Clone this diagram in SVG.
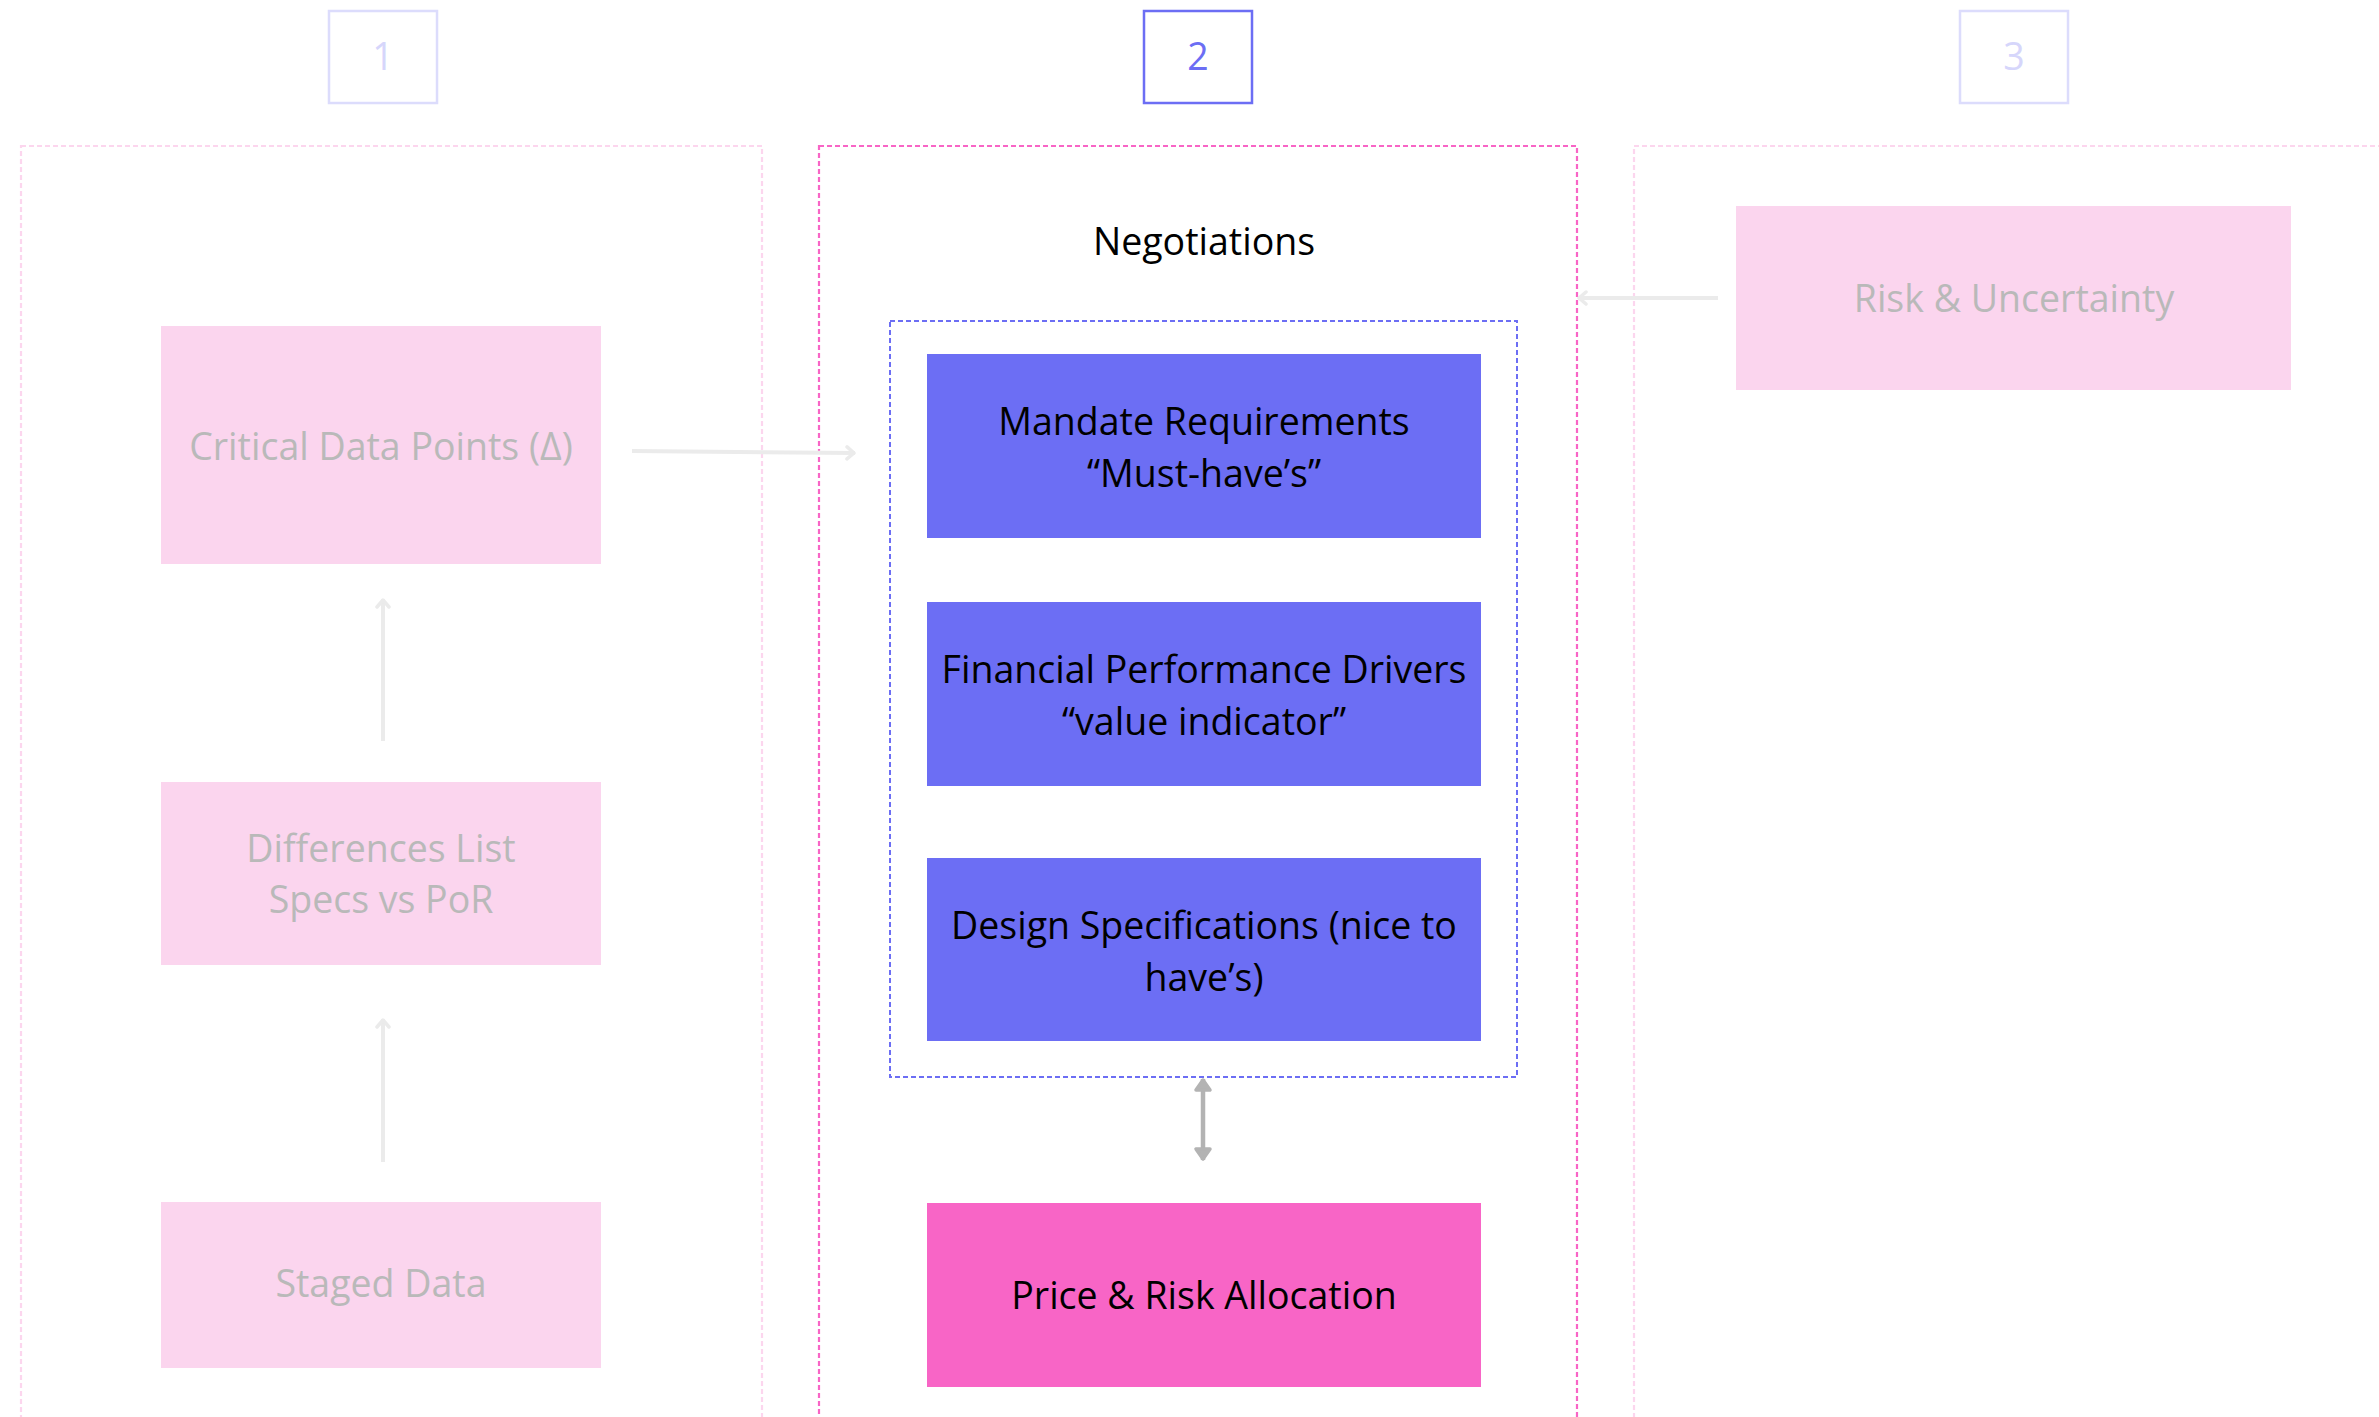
<svg xmlns="http://www.w3.org/2000/svg" width="2379" height="1417" viewBox="0 0 2379 1417">
  <style>
    text { font-family: "Open Sans", "Noto Sans", "Liberation Sans", sans-serif; font-size: 37.5px; text-anchor: middle; }
    .num-faded rect { fill: #ffffff; stroke: #dcdcfc; stroke-width: 2.5; }
    .num-faded text { fill: #d6d6fb; }
    .num-active rect { fill: #ffffff; stroke: #6c6ef4; stroke-width: 2.5; }
    .num-active text { fill: #6c6ef4; }
    .lane-faded { fill: none; stroke: #fcd6ee; stroke-width: 2.2; stroke-dasharray: 5 3; }
    .lane-active { fill: none; stroke: #f865c6; stroke-width: 2.2; stroke-dasharray: 5 3; }
    .group-blue { fill: none; stroke: #6c6ef4; stroke-width: 2; stroke-dasharray: 5 3; }
    .faded rect { fill: #fbd5ee; }
    .faded text { fill: #b9b9b9; }
    .blue rect { fill: #6c6ef4; }
    .blue text, .pink text, .title { fill: #000000; }
    .pink rect { fill: #f865c6; }
    .conn-faded { fill: none; stroke: #ebebeb; stroke-width: 4; }
    .conn-dark { fill: none; stroke: #b3b3b3; stroke-width: 4.5; }
  </style>
  <defs>
    <marker id="arrFaded" viewBox="0 0 12 16" refX="11" refY="8" markerWidth="12" markerHeight="16" markerUnits="userSpaceOnUse" orient="auto-start-reverse">
      <polyline points="3,2 10,8 3,14" fill="none" stroke="#ebebeb" stroke-width="3.5" stroke-linecap="round" stroke-linejoin="round"/>
    </marker>
    <marker id="arrDark" viewBox="0 0 16 20" refX="14" refY="10" markerWidth="16" markerHeight="20" markerUnits="userSpaceOnUse" orient="auto-start-reverse">
      <polygon points="3,3 13,10 3,17" fill="#b3b3b3" stroke="#b3b3b3" stroke-width="3.5" stroke-linejoin="round"/>
    </marker>
  </defs>
  <rect x="0" y="0" width="2379" height="1417" fill="#ffffff"/>

  <!-- lanes -->
  <g id="lane-1"><rect class="lane-faded" x="21" y="146" width="741" height="1300"/></g>
  <g id="lane-2"><rect class="lane-active" x="819" y="146" width="758" height="1300"/></g>
  <g id="lane-3"><rect class="lane-faded" x="1634" y="146" width="800" height="1300"/></g>

  <!-- step numbers -->
  <g id="step-1" class="num-faded"><rect x="329" y="11" width="108" height="92"/><text x="383" y="70">1</text></g>
  <g id="step-2" class="num-active"><rect x="1144" y="11" width="108" height="92"/><text x="1198" y="70">2</text></g>
  <g id="step-3" class="num-faded"><rect x="1960" y="11" width="108" height="92"/><text x="2014" y="70">3</text></g>

  <g id="title-negotiations"><text class="title" x="1204" y="254.5">Negotiations</text></g>

  <g id="group-requirements"><rect class="group-blue" x="890" y="321" width="627" height="756"/></g>

  <!-- faded left nodes -->
  <g id="node-critical" class="faded"><rect x="161" y="326" width="440" height="238"/><text x="381" y="459.5">Critical Data Points (Δ)</text></g>
  <g id="node-differences" class="faded"><rect x="161" y="782" width="440" height="183"/><text x="381" y="861.5">Differences List</text><text x="381" y="912.5">Specs vs PoR</text></g>
  <g id="node-staged" class="faded"><rect x="161" y="1202" width="440" height="166"/><text x="381" y="1296.5">Staged Data</text></g>

  <!-- right node -->
  <g id="node-risk" class="faded"><rect x="1736" y="206" width="555" height="184"/><text x="2014" y="311.5">Risk &amp; Uncertainty</text></g>

  <!-- middle nodes -->
  <g id="node-mandate" class="blue"><rect x="927" y="354" width="554" height="184"/><text x="1204" y="434.5">Mandate Requirements</text><text x="1204" y="486.5">“Must-have’s”</text></g>
  <g id="node-financial" class="blue"><rect x="927" y="602" width="554" height="184"/><text x="1204" y="682.5">Financial Performance Drivers</text><text x="1204" y="734.5">“value indicator”</text></g>
  <g id="node-design" class="blue"><rect x="927" y="858" width="554" height="183"/><text x="1204" y="938.5">Design Specifications (nice to</text><text x="1204" y="990.5">have’s)</text></g>
  <g id="node-price" class="pink"><rect x="927" y="1203" width="554" height="184"/><text x="1204" y="1308.5">Price &amp; Risk Allocation</text></g>

  <!-- connectors -->
  <g id="connectors">
    <path class="conn-faded" d="M632,451 L855,453" marker-end="url(#arrFaded)"/>
    <path class="conn-faded" d="M1718,298 L1578,298" marker-end="url(#arrFaded)"/>
    <path class="conn-faded" d="M383,741 L383,599" marker-end="url(#arrFaded)"/>
    <path class="conn-faded" d="M383,1162 L383,1019" marker-end="url(#arrFaded)"/>
    <path class="conn-dark" d="M1203,1079 L1203,1160" marker-start="url(#arrDark)" marker-end="url(#arrDark)"/>
  </g>
</svg>
